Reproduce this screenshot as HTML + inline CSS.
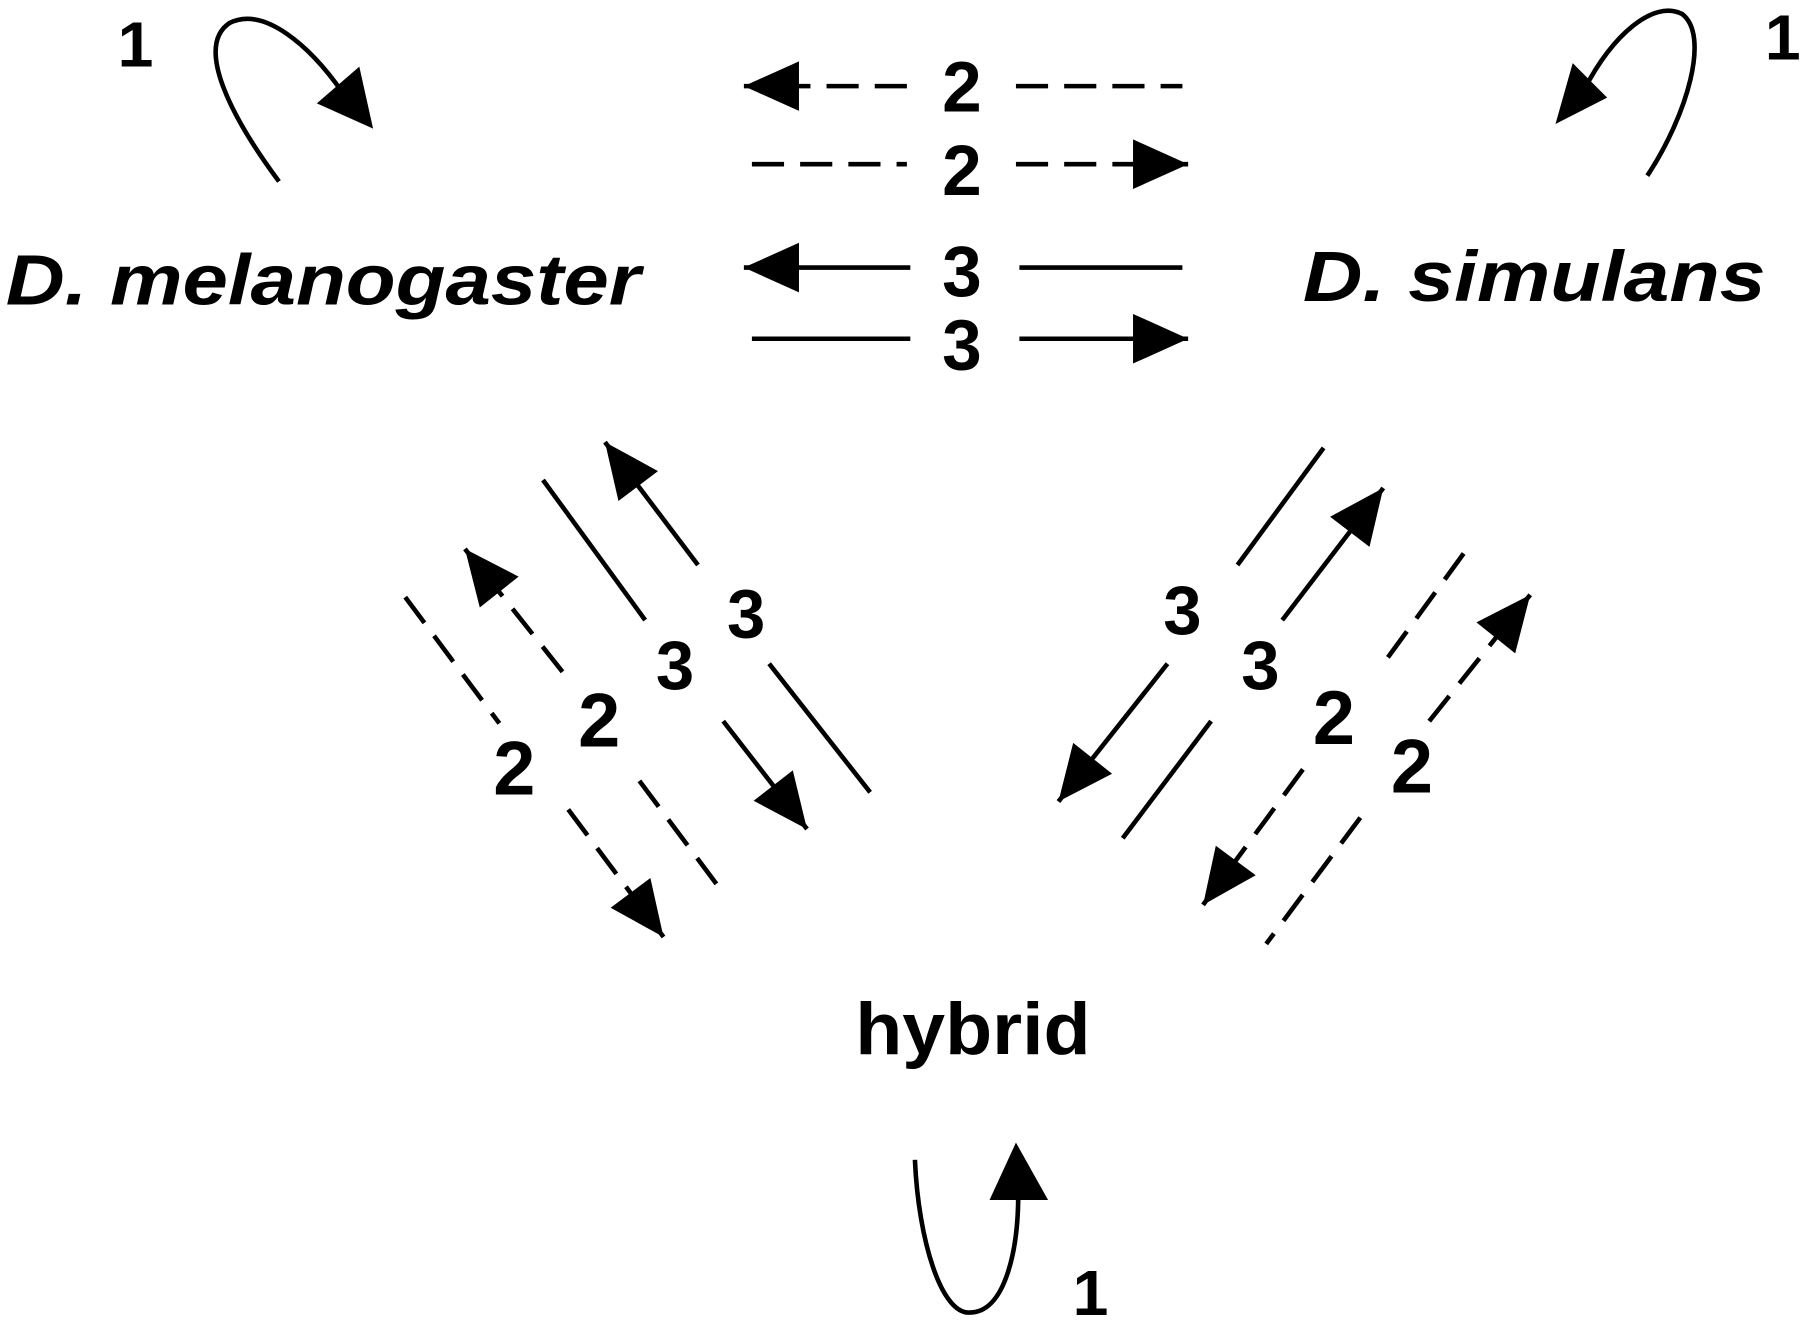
<!DOCTYPE html>
<html><head><meta charset="utf-8"><style>
html,body{margin:0;padding:0;background:#fff;}
svg{display:block}
text{font-family:"Liberation Sans",Arial,sans-serif;font-weight:bold;fill:#000}
</style></head><body>
<svg width="1800" height="1324" viewBox="0 0 1568 1153" preserveAspectRatio="none" xmlns="http://www.w3.org/2000/svg">
<defs>
<marker id="a" markerUnits="userSpaceOnUse" markerWidth="60" markerHeight="60" viewBox="-5 -25 50 50" refX="40" refY="0" orient="auto">
<path d="M0,-18 L40,0 L0,18 z" fill="#000"/>
</marker>
</defs>
<g stroke="#000" stroke-width="4" fill="none">
<!-- loops -->
<path d="M243,158 C200,100 170,40 200,20 C230,5 270,40 298,80"/>
<path d="M1435,153 C1470,100 1490,30 1465,12 C1440,0 1405,30 1380,78"/>
<path d="M797,1010 C800,1080 820,1145 845,1143 C875,1143 887,1090 887,1040"/>
<!-- horizontal -->
<g stroke-dasharray="28,14">
<line x1="790" y1="75" x2="648" y2="75" marker-end="url(#a)"/>
<line x1="885" y1="75" x2="1030" y2="75"/>
<line x1="655" y1="143" x2="790" y2="143"/>
<line x1="885" y1="143" x2="1035" y2="143" marker-end="url(#a)"/>
</g>
<line x1="793" y1="233" x2="648" y2="233" marker-end="url(#a)"/>
<line x1="888" y1="233" x2="1030" y2="233"/>
<line x1="655" y1="295" x2="793" y2="295"/>
<line x1="888" y1="295" x2="1035" y2="295" marker-end="url(#a)"/>
<!-- left diagonals -->
<line x1="473" y1="418" x2="562" y2="540"/>
<line x1="630" y1="628" x2="703" y2="722" marker-end="url(#a)"/>
<line x1="608" y1="492" x2="527" y2="385" marker-end="url(#a)"/>
<line x1="670" y1="578" x2="758" y2="690"/>
<g stroke-dasharray="28,14">
<line x1="353" y1="520" x2="435" y2="630"/>
<line x1="495" y1="705" x2="578" y2="816" marker-end="url(#a)"/>
<line x1="490" y1="585" x2="405" y2="478" marker-end="url(#a)"/>
<line x1="557" y1="680" x2="628" y2="775"/>
</g>
<!-- right diagonals -->
<line x1="1153" y1="390" x2="1078" y2="492"/>
<line x1="1017" y1="578" x2="922" y2="698" marker-end="url(#a)"/>
<line x1="1117" y1="540" x2="1205" y2="425" marker-end="url(#a)"/>
<line x1="1055" y1="628" x2="978" y2="730"/>
<g stroke-dasharray="28,14">
<line x1="1275" y1="482" x2="1205" y2="578"/>
<line x1="1135" y1="670" x2="1048" y2="788" marker-end="url(#a)"/>
<line x1="1245" y1="628" x2="1333" y2="518" marker-end="url(#a)"/>
<line x1="1185" y1="712" x2="1103" y2="822"/>
</g>
</g>
<polygon points="313,58 325,112 276,90" fill="#000"/>
<polygon points="1370,55 1355,108 1400,85" fill="#000"/>
<polygon points="885,995 862,1045 913,1045" fill="#000"/>
<!-- labels -->
<g font-size="56" text-anchor="middle">
<text x="118" y="58">1</text>
<text x="1553" y="52">1</text>
<text x="950" y="1145">1</text>
<text x="838" y="97" font-size="62">2</text>
<text x="838" y="170" font-size="62">2</text>
<text x="838" y="258" font-size="62">3</text>
<text x="838" y="322" font-size="62">3</text>
<text x="650" y="555" font-size="60">3</text>
<text x="588" y="600" font-size="60">3</text>
<text x="522" y="650" font-size="66">2</text>
<text x="448" y="692" font-size="66">2</text>
<text x="1030" y="552" font-size="60">3</text>
<text x="1098" y="600" font-size="60">3</text>
<text x="1162" y="648" font-size="66">2</text>
<text x="1230" y="690" font-size="66">2</text>
</g>
<text x="5" y="265" font-size="62" font-style="italic" textLength="553" lengthAdjust="spacingAndGlyphs">D. melanogaster</text>
<text x="1135" y="262" font-size="62" font-style="italic" textLength="403" lengthAdjust="spacingAndGlyphs">D. simulans</text>
<text x="745" y="918" font-size="64" textLength="205" lengthAdjust="spacingAndGlyphs">hybrid</text>
</svg>
</body></html>
